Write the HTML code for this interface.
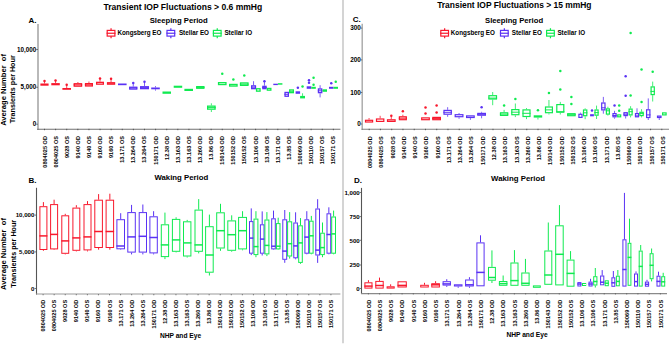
<!DOCTYPE html>
<html><head><meta charset="utf-8"><style>
html,body{margin:0;padding:0;background:#fff;}
svg{display:block;}
text{font-family:"Liberation Sans", sans-serif;}
</style></head><body>
<svg width="669" height="346" viewBox="0 0 669 346">
<rect x="0" y="0" width="669" height="346" fill="#fff"/>
<line x1="343.0" y1="0" x2="343.0" y2="343.2" stroke="#d0d0d0" stroke-width="1.8"/>
<text x="182.90" y="10.00" font-size="8.55" text-anchor="middle" font-weight="bold" fill="#000" >Transient IOP Fluctuations &gt; 0.6 mmHg</text>
<text x="178.70" y="22.90" font-size="7.7" text-anchor="middle" font-weight="bold" fill="#000" >Sleeping Period</text>
<text x="28.50" y="23.10" font-size="8.0" text-anchor="start" font-weight="bold" fill="#000" >A.</text>
<line x1="111.05" y1="28.20" x2="111.05" y2="38.30" stroke="#f8182c" stroke-width="1.2"/>
<rect x="107.20" y="30.40" width="7.70" height="5.70" fill="#fff" stroke="#f8182c" stroke-width="1.2"/>
<line x1="106.60" y1="33.25" x2="115.50" y2="33.25" stroke="#f8182c" stroke-width="1.2"/>
<text x="117.40" y="34.90" font-size="6.3" text-anchor="start" font-weight="bold" fill="#000" >Kongsberg EO</text>
<line x1="170.85" y1="28.20" x2="170.85" y2="38.30" stroke="#5a32f4" stroke-width="1.2"/>
<rect x="167.00" y="30.40" width="7.70" height="5.70" fill="#fff" stroke="#5a32f4" stroke-width="1.2"/>
<line x1="166.40" y1="33.25" x2="175.30" y2="33.25" stroke="#5a32f4" stroke-width="1.2"/>
<text x="178.90" y="34.90" font-size="6.3" text-anchor="start" font-weight="bold" fill="#000" >Stellar EO</text>
<line x1="217.25" y1="28.20" x2="217.25" y2="38.30" stroke="#10ea50" stroke-width="1.2"/>
<rect x="213.40" y="30.40" width="7.70" height="5.70" fill="#fff" stroke="#10ea50" stroke-width="1.2"/>
<line x1="212.80" y1="33.25" x2="221.70" y2="33.25" stroke="#10ea50" stroke-width="1.2"/>
<text x="224.40" y="34.90" font-size="6.3" text-anchor="start" font-weight="bold" fill="#000" >Stellar IO</text>
<text transform="translate(5.90,89.90) rotate(-90)" font-size="7.6" text-anchor="middle" font-weight="bold" fill="#000" >Average Number&#160; of</text>
<text transform="translate(15.00,89.25) rotate(-90)" font-size="7.2" text-anchor="middle" font-weight="bold" fill="#000" >Transients per Hour</text>
<line x1="38.00" y1="24.00" x2="38.00" y2="129.90" stroke="#a8a8a8" stroke-width="1.6"/>
<line x1="37.20" y1="129.30" x2="340.40" y2="129.30" stroke="#707070" stroke-width="1.1"/>
<text x="36.30" y="51.70" font-size="6.3" text-anchor="end" font-weight="bold" fill="#000" >10,000</text>
<line x1="36.20" y1="49.50" x2="38.00" y2="49.50" stroke="#555" stroke-width="0.8"/>
<text x="36.30" y="89.45" font-size="6.3" text-anchor="end" font-weight="bold" fill="#000" >5,000</text>
<line x1="36.20" y1="87.25" x2="38.00" y2="87.25" stroke="#555" stroke-width="0.8"/>
<text x="36.30" y="126.40" font-size="6.3" text-anchor="end" font-weight="bold" fill="#000" >0</text>
<line x1="36.20" y1="124.20" x2="38.00" y2="124.20" stroke="#555" stroke-width="0.8"/>
<line x1="44.50" y1="128.80" x2="44.50" y2="130.20" stroke="#444" stroke-width="0.8"/>
<line x1="55.61" y1="128.80" x2="55.61" y2="130.20" stroke="#444" stroke-width="0.8"/>
<line x1="66.72" y1="128.80" x2="66.72" y2="130.20" stroke="#444" stroke-width="0.8"/>
<line x1="77.83" y1="128.80" x2="77.83" y2="130.20" stroke="#444" stroke-width="0.8"/>
<line x1="88.94" y1="128.80" x2="88.94" y2="130.20" stroke="#444" stroke-width="0.8"/>
<line x1="100.05" y1="128.80" x2="100.05" y2="130.20" stroke="#444" stroke-width="0.8"/>
<line x1="111.16" y1="128.80" x2="111.16" y2="130.20" stroke="#444" stroke-width="0.8"/>
<line x1="122.27" y1="128.80" x2="122.27" y2="130.20" stroke="#444" stroke-width="0.8"/>
<line x1="133.38" y1="128.80" x2="133.38" y2="130.20" stroke="#444" stroke-width="0.8"/>
<line x1="144.49" y1="128.80" x2="144.49" y2="130.20" stroke="#444" stroke-width="0.8"/>
<line x1="155.60" y1="128.80" x2="155.60" y2="130.20" stroke="#444" stroke-width="0.8"/>
<line x1="166.71" y1="128.80" x2="166.71" y2="130.20" stroke="#444" stroke-width="0.8"/>
<line x1="177.82" y1="128.80" x2="177.82" y2="130.20" stroke="#444" stroke-width="0.8"/>
<line x1="188.93" y1="128.80" x2="188.93" y2="130.20" stroke="#444" stroke-width="0.8"/>
<line x1="200.04" y1="128.80" x2="200.04" y2="130.20" stroke="#444" stroke-width="0.8"/>
<line x1="211.15" y1="128.80" x2="211.15" y2="130.20" stroke="#444" stroke-width="0.8"/>
<line x1="222.26" y1="128.80" x2="222.26" y2="130.20" stroke="#444" stroke-width="0.8"/>
<line x1="233.37" y1="128.80" x2="233.37" y2="130.20" stroke="#444" stroke-width="0.8"/>
<line x1="244.48" y1="128.80" x2="244.48" y2="130.20" stroke="#444" stroke-width="0.8"/>
<line x1="255.59" y1="128.80" x2="255.59" y2="130.20" stroke="#444" stroke-width="0.8"/>
<line x1="266.70" y1="128.80" x2="266.70" y2="130.20" stroke="#444" stroke-width="0.8"/>
<line x1="277.81" y1="128.80" x2="277.81" y2="130.20" stroke="#444" stroke-width="0.8"/>
<line x1="288.92" y1="128.80" x2="288.92" y2="130.20" stroke="#444" stroke-width="0.8"/>
<line x1="300.03" y1="128.80" x2="300.03" y2="130.20" stroke="#444" stroke-width="0.8"/>
<line x1="311.14" y1="128.80" x2="311.14" y2="130.20" stroke="#444" stroke-width="0.8"/>
<line x1="322.25" y1="128.80" x2="322.25" y2="130.20" stroke="#444" stroke-width="0.8"/>
<line x1="333.36" y1="128.80" x2="333.36" y2="130.20" stroke="#444" stroke-width="0.8"/>
<text transform="translate(46.50,136.00) rotate(-90)" font-size="5.6" text-anchor="end" font-weight="bold" fill="#000" >0804025 OD</text>
<text transform="translate(57.61,136.00) rotate(-90)" font-size="5.6" text-anchor="end" font-weight="bold" fill="#000" >0804025 OS</text>
<text transform="translate(68.72,136.00) rotate(-90)" font-size="5.6" text-anchor="end" font-weight="bold" fill="#000" >9028 OS</text>
<text transform="translate(79.83,136.00) rotate(-90)" font-size="5.6" text-anchor="end" font-weight="bold" fill="#000" >9140 OD</text>
<text transform="translate(90.94,136.00) rotate(-90)" font-size="5.6" text-anchor="end" font-weight="bold" fill="#000" >9140 OS</text>
<text transform="translate(102.05,136.00) rotate(-90)" font-size="5.6" text-anchor="end" font-weight="bold" fill="#000" >9160 OD</text>
<text transform="translate(113.16,136.00) rotate(-90)" font-size="5.6" text-anchor="end" font-weight="bold" fill="#000" >9160 OS</text>
<text transform="translate(124.27,136.00) rotate(-90)" font-size="5.6" text-anchor="end" font-weight="bold" fill="#000" >13.171 OS</text>
<text transform="translate(135.38,136.00) rotate(-90)" font-size="5.6" text-anchor="end" font-weight="bold" fill="#000" >13.264 OD</text>
<text transform="translate(146.49,136.00) rotate(-90)" font-size="5.6" text-anchor="end" font-weight="bold" fill="#000" >13.264 OS</text>
<text transform="translate(157.60,136.00) rotate(-90)" font-size="5.6" text-anchor="end" font-weight="bold" fill="#000" >150171 OD</text>
<text transform="translate(168.71,136.00) rotate(-90)" font-size="5.6" text-anchor="end" font-weight="bold" fill="#000" >12.38 OD</text>
<text transform="translate(179.82,136.00) rotate(-90)" font-size="5.6" text-anchor="end" font-weight="bold" fill="#000" >13.163 OD</text>
<text transform="translate(190.93,136.00) rotate(-90)" font-size="5.6" text-anchor="end" font-weight="bold" fill="#000" >13.163 OS</text>
<text transform="translate(202.04,136.00) rotate(-90)" font-size="5.6" text-anchor="end" font-weight="bold" fill="#000" >13.260 OD</text>
<text transform="translate(213.15,136.00) rotate(-90)" font-size="5.6" text-anchor="end" font-weight="bold" fill="#000" >13.86 OD</text>
<text transform="translate(224.26,136.00) rotate(-90)" font-size="5.6" text-anchor="end" font-weight="bold" fill="#000" >150143 OD</text>
<text transform="translate(235.37,136.00) rotate(-90)" font-size="5.6" text-anchor="end" font-weight="bold" fill="#000" >150152 OD</text>
<text transform="translate(246.48,136.00) rotate(-90)" font-size="5.6" text-anchor="end" font-weight="bold" fill="#000" >150152 OS</text>
<text transform="translate(257.59,136.00) rotate(-90)" font-size="5.6" text-anchor="end" font-weight="bold" fill="#000" >13.106 OD</text>
<text transform="translate(268.70,136.00) rotate(-90)" font-size="5.6" text-anchor="end" font-weight="bold" fill="#000" >13.106 OS</text>
<text transform="translate(279.81,136.00) rotate(-90)" font-size="5.6" text-anchor="end" font-weight="bold" fill="#000" >13.171 OD</text>
<text transform="translate(290.92,136.00) rotate(-90)" font-size="5.6" text-anchor="end" font-weight="bold" fill="#000" >13.85 OS</text>
<text transform="translate(302.03,136.00) rotate(-90)" font-size="5.6" text-anchor="end" font-weight="bold" fill="#000" >150069 OD</text>
<text transform="translate(313.14,136.00) rotate(-90)" font-size="5.6" text-anchor="end" font-weight="bold" fill="#000" >150110 OD</text>
<text transform="translate(324.25,136.00) rotate(-90)" font-size="5.6" text-anchor="end" font-weight="bold" fill="#000" >150157 OS</text>
<text transform="translate(335.36,136.00) rotate(-90)" font-size="5.6" text-anchor="end" font-weight="bold" fill="#000" >150171 OS</text>
<line x1="44.50" y1="80.90" x2="44.50" y2="83.50" stroke="#f8182c" stroke-width="0.8"/>
<rect x="41.05" y="84.15" width="6.90" height="0.90" fill="none" stroke="#f8182c" stroke-width="1.3"/>
<circle cx="44.50" cy="80.90" r="1.25" fill="#f8182c"/>
<line x1="55.55" y1="80.50" x2="55.55" y2="83.10" stroke="#f8182c" stroke-width="0.8"/>
<rect x="51.95" y="83.75" width="7.20" height="0.90" fill="none" stroke="#f8182c" stroke-width="1.3"/>
<circle cx="55.55" cy="80.50" r="1.25" fill="#f8182c"/>
<line x1="66.70" y1="84.80" x2="66.70" y2="88.00" stroke="#f8182c" stroke-width="0.8"/>
<rect x="63.05" y="88.65" width="7.30" height="0.50" fill="none" stroke="#f8182c" stroke-width="1.3"/>
<circle cx="66.70" cy="84.80" r="1.25" fill="#f8182c"/>
<line x1="77.90" y1="82.00" x2="77.90" y2="83.10" stroke="#f8182c" stroke-width="0.8"/>
<rect x="74.25" y="83.75" width="7.30" height="2.40" fill="none" stroke="#f8182c" stroke-width="1.3"/>
<line x1="73.60" y1="84.90" x2="82.20" y2="84.90" stroke="#f8182c" stroke-width="1.0"/>
<line x1="88.95" y1="81.50" x2="88.95" y2="83.00" stroke="#f8182c" stroke-width="0.8"/>
<rect x="85.55" y="83.65" width="6.80" height="2.30" fill="none" stroke="#f8182c" stroke-width="1.3"/>
<line x1="84.90" y1="84.80" x2="93.00" y2="84.80" stroke="#f8182c" stroke-width="1.0"/>
<line x1="100.00" y1="78.50" x2="100.00" y2="81.70" stroke="#f8182c" stroke-width="0.8"/>
<rect x="96.65" y="82.35" width="6.70" height="1.80" fill="none" stroke="#f8182c" stroke-width="1.3"/>
<circle cx="100.00" cy="78.50" r="1.25" fill="#f8182c"/>
<line x1="111.05" y1="78.80" x2="111.05" y2="82.10" stroke="#f8182c" stroke-width="0.8"/>
<rect x="107.55" y="82.75" width="7.00" height="1.40" fill="none" stroke="#f8182c" stroke-width="1.3"/>
<circle cx="111.05" cy="78.80" r="1.25" fill="#f8182c"/>
<rect x="118.65" y="84.15" width="7.30" height="0.40" fill="none" stroke="#5a32f4" stroke-width="1.3"/>
<line x1="133.25" y1="83.00" x2="133.25" y2="86.60" stroke="#5a32f4" stroke-width="0.8"/>
<rect x="129.75" y="87.25" width="7.00" height="1.80" fill="none" stroke="#5a32f4" stroke-width="1.3"/>
<line x1="129.10" y1="88.00" x2="137.40" y2="88.00" stroke="#5a32f4" stroke-width="1.0"/>
<circle cx="133.25" cy="83.00" r="1.25" fill="#5a32f4"/>
<line x1="144.50" y1="81.70" x2="144.50" y2="86.10" stroke="#5a32f4" stroke-width="0.8"/>
<rect x="140.65" y="86.75" width="7.70" height="1.90" fill="none" stroke="#5a32f4" stroke-width="1.3"/>
<line x1="140.00" y1="87.60" x2="149.00" y2="87.60" stroke="#5a32f4" stroke-width="1.0"/>
<circle cx="144.50" cy="81.70" r="1.25" fill="#5a32f4"/>
<line x1="155.50" y1="86.10" x2="155.50" y2="87.50" stroke="#5a32f4" stroke-width="0.8"/>
<line x1="155.50" y1="89.30" x2="155.50" y2="90.60" stroke="#5a32f4" stroke-width="0.8"/>
<rect x="151.85" y="88.15" width="7.30" height="0.50" fill="none" stroke="#5a32f4" stroke-width="1.3"/>
<rect x="163.15" y="92.15" width="7.20" height="1.00" fill="none" stroke="#10ea50" stroke-width="1.3"/>
<rect x="174.35" y="86.35" width="7.20" height="0.80" fill="none" stroke="#10ea50" stroke-width="1.3"/>
<rect x="185.05" y="89.45" width="7.30" height="0.90" fill="none" stroke="#10ea50" stroke-width="1.3"/>
<rect x="196.75" y="86.65" width="7.10" height="1.60" fill="none" stroke="#10ea50" stroke-width="1.3"/>
<line x1="196.10" y1="87.40" x2="204.50" y2="87.40" stroke="#10ea50" stroke-width="1.0"/>
<line x1="211.35" y1="103.30" x2="211.35" y2="105.50" stroke="#10ea50" stroke-width="0.8"/>
<line x1="211.35" y1="109.80" x2="211.35" y2="112.00" stroke="#10ea50" stroke-width="0.8"/>
<rect x="207.65" y="106.15" width="7.40" height="3.00" fill="none" stroke="#10ea50" stroke-width="1.3"/>
<line x1="207.00" y1="107.60" x2="215.70" y2="107.60" stroke="#10ea50" stroke-width="1.0"/>
<rect x="218.55" y="82.65" width="7.40" height="1.90" fill="none" stroke="#10ea50" stroke-width="1.3"/>
<circle cx="222.25" cy="73.70" r="1.25" fill="#10ea50"/>
<rect x="229.65" y="84.45" width="7.40" height="1.60" fill="none" stroke="#10ea50" stroke-width="1.3"/>
<circle cx="233.35" cy="79.50" r="1.25" fill="#10ea50"/>
<rect x="240.55" y="82.95" width="7.40" height="2.40" fill="none" stroke="#10ea50" stroke-width="1.3"/>
<line x1="239.90" y1="84.20" x2="248.60" y2="84.20" stroke="#10ea50" stroke-width="1.0"/>
<circle cx="244.25" cy="75.40" r="1.25" fill="#10ea50"/>
<line x1="253.55" y1="81.20" x2="253.55" y2="85.20" stroke="#5a32f4" stroke-width="0.8"/>
<rect x="251.65" y="85.85" width="3.80" height="2.80" fill="none" stroke="#5a32f4" stroke-width="1.3"/>
<line x1="251.00" y1="87.20" x2="256.10" y2="87.20" stroke="#5a32f4" stroke-width="1.0"/>
<rect x="256.55" y="88.75" width="3.50" height="2.40" fill="none" stroke="#10ea50" stroke-width="1.3"/>
<line x1="264.45" y1="81.20" x2="264.45" y2="85.70" stroke="#5a32f4" stroke-width="0.8"/>
<rect x="262.85" y="86.35" width="3.20" height="2.30" fill="none" stroke="#5a32f4" stroke-width="1.3"/>
<line x1="262.20" y1="87.50" x2="266.70" y2="87.50" stroke="#5a32f4" stroke-width="1.0"/>
<circle cx="264.45" cy="81.20" r="1.25" fill="#5a32f4"/>
<rect x="267.35" y="88.45" width="3.50" height="1.70" fill="none" stroke="#10ea50" stroke-width="1.3"/>
<rect x="273.95" y="84.35" width="3.30" height="0.10" fill="none" stroke="#5a32f4" stroke-width="1.3"/>
<rect x="278.55" y="83.85" width="3.20" height="0.20" fill="none" stroke="#10ea50" stroke-width="1.3"/>
<rect x="285.05" y="92.45" width="3.30" height="3.80" fill="none" stroke="#5a32f4" stroke-width="1.3"/>
<line x1="284.40" y1="94.30" x2="289.00" y2="94.30" stroke="#5a32f4" stroke-width="1.0"/>
<rect x="289.65" y="89.95" width="3.70" height="2.70" fill="none" stroke="#10ea50" stroke-width="1.3"/>
<line x1="289.00" y1="91.30" x2="294.00" y2="91.30" stroke="#10ea50" stroke-width="1.0"/>
<rect x="296.25" y="91.95" width="3.20" height="1.20" fill="none" stroke="#5a32f4" stroke-width="1.3"/>
<circle cx="297.85" cy="87.80" r="1.25" fill="#5a32f4"/>
<line x1="302.55" y1="93.30" x2="302.55" y2="95.90" stroke="#10ea50" stroke-width="0.8"/>
<rect x="300.75" y="96.55" width="3.60" height="1.20" fill="none" stroke="#10ea50" stroke-width="1.3"/>
<circle cx="302.55" cy="86.50" r="1.25" fill="#10ea50"/>
<rect x="307.35" y="86.95" width="3.30" height="1.20" fill="none" stroke="#5a32f4" stroke-width="1.3"/>
<circle cx="309.00" cy="80.20" r="1.25" fill="#5a32f4"/>
<circle cx="309.00" cy="82.70" r="1.25" fill="#5a32f4"/>
<rect x="311.95" y="87.45" width="3.20" height="0.70" fill="none" stroke="#10ea50" stroke-width="1.3"/>
<circle cx="313.55" cy="77.70" r="1.25" fill="#10ea50"/>
<circle cx="313.55" cy="84.70" r="1.25" fill="#10ea50"/>
<line x1="320.10" y1="85.20" x2="320.10" y2="88.30" stroke="#5a32f4" stroke-width="0.8"/>
<line x1="320.10" y1="93.30" x2="320.10" y2="97.40" stroke="#5a32f4" stroke-width="0.8"/>
<rect x="318.45" y="88.95" width="3.30" height="3.70" fill="none" stroke="#5a32f4" stroke-width="1.3"/>
<line x1="317.80" y1="90.80" x2="322.40" y2="90.80" stroke="#5a32f4" stroke-width="1.0"/>
<rect x="323.25" y="89.95" width="3.10" height="1.20" fill="none" stroke="#10ea50" stroke-width="1.3"/>
<rect x="329.65" y="87.45" width="3.20" height="0.70" fill="none" stroke="#5a32f4" stroke-width="1.3"/>
<circle cx="331.25" cy="83.20" r="1.25" fill="#5a32f4"/>
<rect x="334.15" y="87.45" width="3.20" height="0.70" fill="none" stroke="#10ea50" stroke-width="1.3"/>
<circle cx="335.75" cy="81.70" r="1.25" fill="#10ea50"/>
<text x="181.35" y="180.00" font-size="7.8" text-anchor="middle" font-weight="bold" fill="#000" >Waking Period</text>
<text x="28.50" y="182.60" font-size="8.0" text-anchor="start" font-weight="bold" fill="#000" >B.</text>
<text transform="translate(6.40,254.00) rotate(-90)" font-size="7.6" text-anchor="middle" font-weight="bold" fill="#000" >Average Number&#160; of</text>
<text transform="translate(15.80,253.80) rotate(-90)" font-size="7.2" text-anchor="middle" font-weight="bold" fill="#000" >Transients per Hour</text>
<line x1="36.50" y1="187.80" x2="36.50" y2="294.60" stroke="#555" stroke-width="1.1"/>
<line x1="36.00" y1="294.00" x2="340.40" y2="294.00" stroke="#999" stroke-width="1.2"/>
<text x="34.30" y="217.30" font-size="6.1" text-anchor="end" font-weight="bold" fill="#000" >10,000</text>
<line x1="34.50" y1="215.10" x2="36.50" y2="215.10" stroke="#555" stroke-width="0.8"/>
<text x="34.30" y="254.10" font-size="6.1" text-anchor="end" font-weight="bold" fill="#000" >5,000</text>
<line x1="34.50" y1="251.90" x2="36.50" y2="251.90" stroke="#555" stroke-width="0.8"/>
<text x="34.30" y="290.70" font-size="6.1" text-anchor="end" font-weight="bold" fill="#000" >0</text>
<line x1="34.50" y1="288.50" x2="36.50" y2="288.50" stroke="#555" stroke-width="0.8"/>
<line x1="43.10" y1="294.00" x2="43.10" y2="295.30" stroke="#555" stroke-width="0.7"/>
<line x1="54.17" y1="294.00" x2="54.17" y2="295.30" stroke="#555" stroke-width="0.7"/>
<line x1="65.24" y1="294.00" x2="65.24" y2="295.30" stroke="#555" stroke-width="0.7"/>
<line x1="76.31" y1="294.00" x2="76.31" y2="295.30" stroke="#555" stroke-width="0.7"/>
<line x1="87.38" y1="294.00" x2="87.38" y2="295.30" stroke="#555" stroke-width="0.7"/>
<line x1="98.45" y1="294.00" x2="98.45" y2="295.30" stroke="#555" stroke-width="0.7"/>
<line x1="109.52" y1="294.00" x2="109.52" y2="295.30" stroke="#555" stroke-width="0.7"/>
<line x1="120.59" y1="294.00" x2="120.59" y2="295.30" stroke="#555" stroke-width="0.7"/>
<line x1="131.66" y1="294.00" x2="131.66" y2="295.30" stroke="#555" stroke-width="0.7"/>
<line x1="142.73" y1="294.00" x2="142.73" y2="295.30" stroke="#555" stroke-width="0.7"/>
<line x1="153.80" y1="294.00" x2="153.80" y2="295.30" stroke="#555" stroke-width="0.7"/>
<line x1="164.87" y1="294.00" x2="164.87" y2="295.30" stroke="#555" stroke-width="0.7"/>
<line x1="175.94" y1="294.00" x2="175.94" y2="295.30" stroke="#555" stroke-width="0.7"/>
<line x1="187.01" y1="294.00" x2="187.01" y2="295.30" stroke="#555" stroke-width="0.7"/>
<line x1="198.08" y1="294.00" x2="198.08" y2="295.30" stroke="#555" stroke-width="0.7"/>
<line x1="209.15" y1="294.00" x2="209.15" y2="295.30" stroke="#555" stroke-width="0.7"/>
<line x1="220.22" y1="294.00" x2="220.22" y2="295.30" stroke="#555" stroke-width="0.7"/>
<line x1="231.29" y1="294.00" x2="231.29" y2="295.30" stroke="#555" stroke-width="0.7"/>
<line x1="242.36" y1="294.00" x2="242.36" y2="295.30" stroke="#555" stroke-width="0.7"/>
<line x1="253.43" y1="294.00" x2="253.43" y2="295.30" stroke="#555" stroke-width="0.7"/>
<line x1="264.50" y1="294.00" x2="264.50" y2="295.30" stroke="#555" stroke-width="0.7"/>
<line x1="275.57" y1="294.00" x2="275.57" y2="295.30" stroke="#555" stroke-width="0.7"/>
<line x1="286.64" y1="294.00" x2="286.64" y2="295.30" stroke="#555" stroke-width="0.7"/>
<line x1="297.71" y1="294.00" x2="297.71" y2="295.30" stroke="#555" stroke-width="0.7"/>
<line x1="308.78" y1="294.00" x2="308.78" y2="295.30" stroke="#555" stroke-width="0.7"/>
<line x1="319.85" y1="294.00" x2="319.85" y2="295.30" stroke="#555" stroke-width="0.7"/>
<line x1="330.92" y1="294.00" x2="330.92" y2="295.30" stroke="#555" stroke-width="0.7"/>
<text transform="translate(45.10,299.80) rotate(-90)" font-size="5.6" text-anchor="end" font-weight="bold" fill="#000" >0804025 OD</text>
<text transform="translate(56.17,299.80) rotate(-90)" font-size="5.6" text-anchor="end" font-weight="bold" fill="#000" >0804025 OS</text>
<text transform="translate(67.24,299.80) rotate(-90)" font-size="5.6" text-anchor="end" font-weight="bold" fill="#000" >9028 OS</text>
<text transform="translate(78.31,299.80) rotate(-90)" font-size="5.6" text-anchor="end" font-weight="bold" fill="#000" >9140 OD</text>
<text transform="translate(89.38,299.80) rotate(-90)" font-size="5.6" text-anchor="end" font-weight="bold" fill="#000" >9140 OS</text>
<text transform="translate(100.45,299.80) rotate(-90)" font-size="5.6" text-anchor="end" font-weight="bold" fill="#000" >9160 OD</text>
<text transform="translate(111.52,299.80) rotate(-90)" font-size="5.6" text-anchor="end" font-weight="bold" fill="#000" >9160 OS</text>
<text transform="translate(122.59,299.80) rotate(-90)" font-size="5.6" text-anchor="end" font-weight="bold" fill="#000" >13.171 OS</text>
<text transform="translate(133.66,299.80) rotate(-90)" font-size="5.6" text-anchor="end" font-weight="bold" fill="#000" >13.264 OD</text>
<text transform="translate(144.73,299.80) rotate(-90)" font-size="5.6" text-anchor="end" font-weight="bold" fill="#000" >13.264 OS</text>
<text transform="translate(155.80,299.80) rotate(-90)" font-size="5.6" text-anchor="end" font-weight="bold" fill="#000" >150171 OD</text>
<text transform="translate(166.87,299.80) rotate(-90)" font-size="5.6" text-anchor="end" font-weight="bold" fill="#000" >12.38 OD</text>
<text transform="translate(177.94,299.80) rotate(-90)" font-size="5.6" text-anchor="end" font-weight="bold" fill="#000" >13.163 OD</text>
<text transform="translate(189.01,299.80) rotate(-90)" font-size="5.6" text-anchor="end" font-weight="bold" fill="#000" >13.163 OS</text>
<text transform="translate(200.08,299.80) rotate(-90)" font-size="5.6" text-anchor="end" font-weight="bold" fill="#000" >13.260 OD</text>
<text transform="translate(211.15,299.80) rotate(-90)" font-size="5.6" text-anchor="end" font-weight="bold" fill="#000" >13.86 OD</text>
<text transform="translate(222.22,299.80) rotate(-90)" font-size="5.6" text-anchor="end" font-weight="bold" fill="#000" >150143 OD</text>
<text transform="translate(233.29,299.80) rotate(-90)" font-size="5.6" text-anchor="end" font-weight="bold" fill="#000" >150152 OD</text>
<text transform="translate(244.36,299.80) rotate(-90)" font-size="5.6" text-anchor="end" font-weight="bold" fill="#000" >150152 OS</text>
<text transform="translate(255.43,299.80) rotate(-90)" font-size="5.6" text-anchor="end" font-weight="bold" fill="#000" >13.106 OD</text>
<text transform="translate(266.50,299.80) rotate(-90)" font-size="5.6" text-anchor="end" font-weight="bold" fill="#000" >13.106 OS</text>
<text transform="translate(277.57,299.80) rotate(-90)" font-size="5.6" text-anchor="end" font-weight="bold" fill="#000" >13.171 OD</text>
<text transform="translate(288.64,299.80) rotate(-90)" font-size="5.6" text-anchor="end" font-weight="bold" fill="#000" >13.85 OS</text>
<text transform="translate(299.71,299.80) rotate(-90)" font-size="5.6" text-anchor="end" font-weight="bold" fill="#000" >150069 OD</text>
<text transform="translate(310.78,299.80) rotate(-90)" font-size="5.6" text-anchor="end" font-weight="bold" fill="#000" >150110 OD</text>
<text transform="translate(321.85,299.80) rotate(-90)" font-size="5.6" text-anchor="end" font-weight="bold" fill="#000" >150157 OS</text>
<text transform="translate(332.92,299.80) rotate(-90)" font-size="5.6" text-anchor="end" font-weight="bold" fill="#000" >150171 OS</text>
<text x="180.50" y="337.60" font-size="6.65" text-anchor="middle" font-weight="bold" fill="#000" >NHP and Eye</text>
<line x1="43.40" y1="202.10" x2="43.40" y2="206.20" stroke="#f8182c" stroke-width="1.0"/>
<line x1="43.40" y1="250.00" x2="43.40" y2="250.80" stroke="#f8182c" stroke-width="1.0"/>
<rect x="39.90" y="206.70" width="7.00" height="42.80" fill="none" stroke="#f8182c" stroke-width="1.0"/>
<line x1="39.40" y1="235.90" x2="47.40" y2="235.90" stroke="#f8182c" stroke-width="1.5"/>
<line x1="54.10" y1="199.70" x2="54.10" y2="204.10" stroke="#f8182c" stroke-width="1.0"/>
<line x1="54.10" y1="249.40" x2="54.10" y2="250.00" stroke="#f8182c" stroke-width="1.0"/>
<rect x="50.60" y="204.60" width="7.00" height="44.30" fill="none" stroke="#f8182c" stroke-width="1.0"/>
<line x1="50.10" y1="234.40" x2="58.10" y2="234.40" stroke="#f8182c" stroke-width="1.5"/>
<line x1="65.25" y1="213.80" x2="65.25" y2="215.30" stroke="#f8182c" stroke-width="1.0"/>
<line x1="65.25" y1="253.80" x2="65.25" y2="254.40" stroke="#f8182c" stroke-width="1.0"/>
<rect x="61.80" y="215.80" width="6.90" height="37.50" fill="none" stroke="#f8182c" stroke-width="1.0"/>
<line x1="61.30" y1="240.90" x2="69.20" y2="240.90" stroke="#f8182c" stroke-width="1.5"/>
<line x1="76.35" y1="205.20" x2="76.35" y2="207.60" stroke="#f8182c" stroke-width="1.0"/>
<line x1="76.35" y1="250.80" x2="76.35" y2="251.40" stroke="#f8182c" stroke-width="1.0"/>
<rect x="72.90" y="208.10" width="6.90" height="42.20" fill="none" stroke="#f8182c" stroke-width="1.0"/>
<line x1="72.40" y1="237.90" x2="80.30" y2="237.90" stroke="#f8182c" stroke-width="1.5"/>
<line x1="87.50" y1="201.10" x2="87.50" y2="204.10" stroke="#f8182c" stroke-width="1.0"/>
<line x1="87.50" y1="250.40" x2="87.50" y2="251.40" stroke="#f8182c" stroke-width="1.0"/>
<rect x="84.00" y="204.60" width="7.00" height="45.30" fill="none" stroke="#f8182c" stroke-width="1.0"/>
<line x1="83.50" y1="236.90" x2="91.50" y2="236.90" stroke="#f8182c" stroke-width="1.5"/>
<line x1="98.60" y1="194.10" x2="98.60" y2="199.70" stroke="#f8182c" stroke-width="1.0"/>
<line x1="98.60" y1="248.00" x2="98.60" y2="249.70" stroke="#f8182c" stroke-width="1.0"/>
<rect x="94.80" y="200.20" width="7.60" height="47.30" fill="none" stroke="#f8182c" stroke-width="1.0"/>
<line x1="94.30" y1="231.50" x2="102.90" y2="231.50" stroke="#f8182c" stroke-width="1.5"/>
<line x1="109.85" y1="193.70" x2="109.85" y2="199.70" stroke="#f8182c" stroke-width="1.0"/>
<line x1="109.85" y1="248.00" x2="109.85" y2="249.70" stroke="#f8182c" stroke-width="1.0"/>
<rect x="106.10" y="200.20" width="7.50" height="47.30" fill="none" stroke="#f8182c" stroke-width="1.0"/>
<line x1="105.60" y1="231.50" x2="114.10" y2="231.50" stroke="#f8182c" stroke-width="1.5"/>
<line x1="120.70" y1="213.20" x2="120.70" y2="219.20" stroke="#5a32f4" stroke-width="1.0"/>
<line x1="120.70" y1="249.30" x2="120.70" y2="249.80" stroke="#5a32f4" stroke-width="1.0"/>
<rect x="116.90" y="219.70" width="7.60" height="29.10" fill="none" stroke="#5a32f4" stroke-width="1.0"/>
<line x1="116.40" y1="246.00" x2="125.00" y2="246.00" stroke="#5a32f4" stroke-width="1.5"/>
<line x1="131.55" y1="204.90" x2="131.55" y2="212.10" stroke="#5a32f4" stroke-width="1.0"/>
<line x1="131.55" y1="252.60" x2="131.55" y2="254.40" stroke="#5a32f4" stroke-width="1.0"/>
<rect x="127.80" y="212.60" width="7.50" height="39.50" fill="none" stroke="#5a32f4" stroke-width="1.0"/>
<line x1="127.30" y1="236.90" x2="135.80" y2="236.90" stroke="#5a32f4" stroke-width="1.5"/>
<line x1="142.85" y1="204.50" x2="142.85" y2="212.10" stroke="#5a32f4" stroke-width="1.0"/>
<line x1="142.85" y1="252.60" x2="142.85" y2="254.40" stroke="#5a32f4" stroke-width="1.0"/>
<rect x="139.20" y="212.60" width="7.30" height="39.50" fill="none" stroke="#5a32f4" stroke-width="1.0"/>
<line x1="138.70" y1="236.30" x2="147.00" y2="236.30" stroke="#5a32f4" stroke-width="1.5"/>
<line x1="153.60" y1="211.20" x2="153.60" y2="216.30" stroke="#5a32f4" stroke-width="1.0"/>
<line x1="153.60" y1="253.40" x2="153.60" y2="254.40" stroke="#5a32f4" stroke-width="1.0"/>
<rect x="149.90" y="216.80" width="7.40" height="36.10" fill="none" stroke="#5a32f4" stroke-width="1.0"/>
<line x1="149.40" y1="237.50" x2="157.80" y2="237.50" stroke="#5a32f4" stroke-width="1.5"/>
<line x1="164.95" y1="212.60" x2="164.95" y2="224.30" stroke="#10ea50" stroke-width="1.0"/>
<line x1="164.95" y1="257.10" x2="164.95" y2="259.10" stroke="#10ea50" stroke-width="1.0"/>
<rect x="161.30" y="224.80" width="7.30" height="31.80" fill="none" stroke="#10ea50" stroke-width="1.0"/>
<line x1="160.80" y1="244.90" x2="169.10" y2="244.90" stroke="#10ea50" stroke-width="1.5"/>
<line x1="176.10" y1="217.30" x2="176.10" y2="218.90" stroke="#10ea50" stroke-width="1.0"/>
<line x1="176.10" y1="251.80" x2="176.10" y2="252.40" stroke="#10ea50" stroke-width="1.0"/>
<rect x="172.40" y="219.40" width="7.40" height="31.90" fill="none" stroke="#10ea50" stroke-width="1.0"/>
<line x1="171.90" y1="239.90" x2="180.30" y2="239.90" stroke="#10ea50" stroke-width="1.5"/>
<line x1="187.20" y1="219.90" x2="187.20" y2="221.30" stroke="#10ea50" stroke-width="1.0"/>
<line x1="187.20" y1="256.50" x2="187.20" y2="257.50" stroke="#10ea50" stroke-width="1.0"/>
<rect x="183.50" y="221.80" width="7.40" height="34.20" fill="none" stroke="#10ea50" stroke-width="1.0"/>
<line x1="183.00" y1="242.90" x2="191.40" y2="242.90" stroke="#10ea50" stroke-width="1.5"/>
<line x1="198.70" y1="199.10" x2="198.70" y2="209.60" stroke="#10ea50" stroke-width="1.0"/>
<line x1="198.70" y1="251.80" x2="198.70" y2="253.40" stroke="#10ea50" stroke-width="1.0"/>
<rect x="195.00" y="210.10" width="7.40" height="41.20" fill="none" stroke="#10ea50" stroke-width="1.0"/>
<line x1="194.50" y1="244.90" x2="202.90" y2="244.90" stroke="#10ea50" stroke-width="1.5"/>
<line x1="209.40" y1="214.60" x2="209.40" y2="226.20" stroke="#10ea50" stroke-width="1.0"/>
<line x1="209.40" y1="272.70" x2="209.40" y2="275.50" stroke="#10ea50" stroke-width="1.0"/>
<rect x="205.60" y="226.70" width="7.60" height="45.50" fill="none" stroke="#10ea50" stroke-width="1.0"/>
<line x1="205.10" y1="255.00" x2="213.70" y2="255.00" stroke="#10ea50" stroke-width="1.5"/>
<line x1="220.50" y1="203.80" x2="220.50" y2="212.30" stroke="#10ea50" stroke-width="1.0"/>
<line x1="220.50" y1="248.50" x2="220.50" y2="250.80" stroke="#10ea50" stroke-width="1.0"/>
<rect x="216.70" y="212.80" width="7.60" height="35.20" fill="none" stroke="#10ea50" stroke-width="1.0"/>
<line x1="216.20" y1="230.70" x2="224.80" y2="230.70" stroke="#10ea50" stroke-width="1.5"/>
<line x1="231.70" y1="215.30" x2="231.70" y2="220.40" stroke="#10ea50" stroke-width="1.0"/>
<line x1="231.70" y1="250.80" x2="231.70" y2="251.70" stroke="#10ea50" stroke-width="1.0"/>
<rect x="227.80" y="220.90" width="7.80" height="29.40" fill="none" stroke="#10ea50" stroke-width="1.0"/>
<line x1="227.30" y1="234.70" x2="236.10" y2="234.70" stroke="#10ea50" stroke-width="1.5"/>
<line x1="242.55" y1="211.20" x2="242.55" y2="216.90" stroke="#10ea50" stroke-width="1.0"/>
<line x1="242.55" y1="249.40" x2="242.55" y2="250.30" stroke="#10ea50" stroke-width="1.0"/>
<rect x="238.60" y="217.40" width="7.90" height="31.50" fill="none" stroke="#10ea50" stroke-width="1.0"/>
<line x1="238.10" y1="230.70" x2="247.00" y2="230.70" stroke="#10ea50" stroke-width="1.5"/>
<line x1="251.25" y1="208.40" x2="251.25" y2="221.10" stroke="#5a32f4" stroke-width="1.0"/>
<line x1="251.25" y1="253.70" x2="251.25" y2="255.10" stroke="#5a32f4" stroke-width="1.0"/>
<rect x="249.50" y="221.60" width="3.50" height="31.60" fill="none" stroke="#5a32f4" stroke-width="1.0"/>
<line x1="249.00" y1="238.10" x2="253.50" y2="238.10" stroke="#5a32f4" stroke-width="1.5"/>
<line x1="255.95" y1="211.20" x2="255.95" y2="218.60" stroke="#10ea50" stroke-width="1.0"/>
<line x1="255.95" y1="255.10" x2="255.95" y2="257.20" stroke="#10ea50" stroke-width="1.0"/>
<rect x="254.00" y="219.10" width="3.90" height="35.50" fill="none" stroke="#10ea50" stroke-width="1.0"/>
<line x1="253.50" y1="246.60" x2="258.40" y2="246.60" stroke="#10ea50" stroke-width="1.5"/>
<line x1="262.20" y1="211.40" x2="262.20" y2="224.30" stroke="#5a32f4" stroke-width="1.0"/>
<line x1="262.20" y1="253.70" x2="262.20" y2="255.50" stroke="#5a32f4" stroke-width="1.0"/>
<rect x="260.40" y="224.80" width="3.60" height="28.40" fill="none" stroke="#5a32f4" stroke-width="1.0"/>
<line x1="259.90" y1="239.10" x2="264.50" y2="239.10" stroke="#5a32f4" stroke-width="1.5"/>
<line x1="266.90" y1="212.10" x2="266.90" y2="219.50" stroke="#10ea50" stroke-width="1.0"/>
<line x1="266.90" y1="254.40" x2="266.90" y2="256.10" stroke="#10ea50" stroke-width="1.0"/>
<rect x="264.90" y="220.00" width="4.00" height="33.90" fill="none" stroke="#10ea50" stroke-width="1.0"/>
<line x1="264.40" y1="245.40" x2="269.40" y2="245.40" stroke="#10ea50" stroke-width="1.5"/>
<line x1="273.50" y1="210.60" x2="273.50" y2="218.30" stroke="#5a32f4" stroke-width="1.0"/>
<line x1="273.50" y1="249.40" x2="273.50" y2="249.80" stroke="#5a32f4" stroke-width="1.0"/>
<rect x="271.70" y="218.80" width="3.60" height="30.10" fill="none" stroke="#5a32f4" stroke-width="1.0"/>
<line x1="271.20" y1="246.20" x2="275.80" y2="246.20" stroke="#5a32f4" stroke-width="1.5"/>
<line x1="278.20" y1="217.70" x2="278.20" y2="223.10" stroke="#10ea50" stroke-width="1.0"/>
<line x1="278.20" y1="249.40" x2="278.20" y2="249.80" stroke="#10ea50" stroke-width="1.0"/>
<rect x="276.40" y="223.60" width="3.60" height="25.30" fill="none" stroke="#10ea50" stroke-width="1.0"/>
<line x1="275.90" y1="246.20" x2="280.50" y2="246.20" stroke="#10ea50" stroke-width="1.5"/>
<line x1="284.75" y1="210.00" x2="284.75" y2="219.30" stroke="#5a32f4" stroke-width="1.0"/>
<line x1="284.75" y1="259.80" x2="284.75" y2="262.80" stroke="#5a32f4" stroke-width="1.0"/>
<rect x="282.80" y="219.80" width="3.90" height="39.50" fill="none" stroke="#5a32f4" stroke-width="1.0"/>
<line x1="282.30" y1="251.10" x2="287.20" y2="251.10" stroke="#5a32f4" stroke-width="1.5"/>
<line x1="289.65" y1="212.10" x2="289.65" y2="221.30" stroke="#10ea50" stroke-width="1.0"/>
<line x1="289.65" y1="256.50" x2="289.65" y2="258.60" stroke="#10ea50" stroke-width="1.0"/>
<rect x="287.60" y="221.80" width="4.10" height="34.20" fill="none" stroke="#10ea50" stroke-width="1.0"/>
<line x1="287.10" y1="243.70" x2="292.20" y2="243.70" stroke="#10ea50" stroke-width="1.5"/>
<line x1="295.60" y1="212.30" x2="295.60" y2="222.50" stroke="#5a32f4" stroke-width="1.0"/>
<line x1="295.60" y1="258.30" x2="295.60" y2="259.30" stroke="#5a32f4" stroke-width="1.0"/>
<rect x="293.80" y="223.00" width="3.60" height="34.80" fill="none" stroke="#5a32f4" stroke-width="1.0"/>
<line x1="293.30" y1="245.90" x2="297.90" y2="245.90" stroke="#5a32f4" stroke-width="1.5"/>
<line x1="300.50" y1="218.10" x2="300.50" y2="225.30" stroke="#10ea50" stroke-width="1.0"/>
<line x1="300.50" y1="262.90" x2="300.50" y2="263.80" stroke="#10ea50" stroke-width="1.0"/>
<rect x="298.70" y="225.80" width="3.60" height="36.60" fill="none" stroke="#10ea50" stroke-width="1.0"/>
<line x1="298.20" y1="242.90" x2="302.80" y2="242.90" stroke="#10ea50" stroke-width="1.5"/>
<line x1="306.80" y1="211.20" x2="306.80" y2="219.30" stroke="#5a32f4" stroke-width="1.0"/>
<line x1="306.80" y1="253.70" x2="306.80" y2="254.30" stroke="#5a32f4" stroke-width="1.0"/>
<rect x="304.90" y="219.80" width="3.80" height="33.40" fill="none" stroke="#5a32f4" stroke-width="1.0"/>
<line x1="304.40" y1="237.10" x2="309.20" y2="237.10" stroke="#5a32f4" stroke-width="1.5"/>
<line x1="311.35" y1="215.90" x2="311.35" y2="220.70" stroke="#10ea50" stroke-width="1.0"/>
<line x1="311.35" y1="253.70" x2="311.35" y2="254.30" stroke="#10ea50" stroke-width="1.0"/>
<rect x="309.60" y="221.20" width="3.50" height="32.00" fill="none" stroke="#10ea50" stroke-width="1.0"/>
<line x1="309.10" y1="235.80" x2="313.60" y2="235.80" stroke="#10ea50" stroke-width="1.5"/>
<line x1="317.65" y1="199.20" x2="317.65" y2="208.50" stroke="#5a32f4" stroke-width="1.0"/>
<line x1="317.65" y1="255.50" x2="317.65" y2="262.90" stroke="#5a32f4" stroke-width="1.0"/>
<rect x="315.80" y="209.00" width="3.70" height="46.00" fill="none" stroke="#5a32f4" stroke-width="1.0"/>
<line x1="315.30" y1="250.10" x2="320.00" y2="250.10" stroke="#5a32f4" stroke-width="1.5"/>
<line x1="322.50" y1="222.50" x2="322.50" y2="232.70" stroke="#10ea50" stroke-width="1.0"/>
<line x1="322.50" y1="255.10" x2="322.50" y2="257.20" stroke="#10ea50" stroke-width="1.0"/>
<rect x="320.70" y="233.20" width="3.60" height="21.40" fill="none" stroke="#10ea50" stroke-width="1.0"/>
<line x1="320.20" y1="247.60" x2="324.80" y2="247.60" stroke="#10ea50" stroke-width="1.5"/>
<line x1="328.85" y1="207.30" x2="328.85" y2="213.30" stroke="#5a32f4" stroke-width="1.0"/>
<line x1="328.85" y1="253.70" x2="328.85" y2="254.30" stroke="#5a32f4" stroke-width="1.0"/>
<rect x="327.00" y="213.80" width="3.70" height="39.40" fill="none" stroke="#5a32f4" stroke-width="1.0"/>
<line x1="326.50" y1="234.50" x2="331.20" y2="234.50" stroke="#5a32f4" stroke-width="1.5"/>
<line x1="333.60" y1="210.60" x2="333.60" y2="216.50" stroke="#10ea50" stroke-width="1.0"/>
<line x1="333.60" y1="253.70" x2="333.60" y2="254.30" stroke="#10ea50" stroke-width="1.0"/>
<rect x="331.70" y="217.00" width="3.80" height="36.20" fill="none" stroke="#10ea50" stroke-width="1.0"/>
<line x1="331.20" y1="233.90" x2="336.00" y2="233.90" stroke="#10ea50" stroke-width="1.5"/>
<text x="514.30" y="7.80" font-size="8.45" text-anchor="middle" font-weight="bold" fill="#000" >Transient IOP Fluctuations &gt; 15 mmHg</text>
<text x="514.10" y="23.00" font-size="7.7" text-anchor="middle" font-weight="bold" fill="#000" >Sleeping Period</text>
<text x="352.70" y="22.40" font-size="8.0" text-anchor="start" font-weight="bold" fill="#000" >C.</text>
<line x1="444.65" y1="28.20" x2="444.65" y2="38.30" stroke="#f8182c" stroke-width="1.2"/>
<rect x="440.80" y="30.40" width="7.70" height="5.70" fill="#fff" stroke="#f8182c" stroke-width="1.2"/>
<line x1="440.20" y1="33.25" x2="449.10" y2="33.25" stroke="#f8182c" stroke-width="1.2"/>
<text x="450.80" y="34.90" font-size="6.3" text-anchor="start" font-weight="bold" fill="#000" >Kongsberg EO</text>
<line x1="504.35" y1="28.20" x2="504.35" y2="38.30" stroke="#5a32f4" stroke-width="1.2"/>
<rect x="500.50" y="30.40" width="7.70" height="5.70" fill="#fff" stroke="#5a32f4" stroke-width="1.2"/>
<line x1="499.90" y1="33.25" x2="508.80" y2="33.25" stroke="#5a32f4" stroke-width="1.2"/>
<text x="511.70" y="34.90" font-size="6.3" text-anchor="start" font-weight="bold" fill="#000" >Stellar EO</text>
<line x1="550.45" y1="28.20" x2="550.45" y2="38.30" stroke="#10ea50" stroke-width="1.2"/>
<rect x="546.60" y="30.40" width="7.70" height="5.70" fill="#fff" stroke="#10ea50" stroke-width="1.2"/>
<line x1="546.00" y1="33.25" x2="554.90" y2="33.25" stroke="#10ea50" stroke-width="1.2"/>
<text x="557.40" y="34.90" font-size="6.3" text-anchor="start" font-weight="bold" fill="#000" >Stellar IO</text>
<line x1="362.20" y1="23.70" x2="362.20" y2="129.90" stroke="#a8a8a8" stroke-width="1.4"/>
<line x1="361.60" y1="129.30" x2="669.00" y2="129.30" stroke="#808080" stroke-width="1.1"/>
<text x="360.80" y="30.40" font-size="6.4" text-anchor="end" font-weight="bold" fill="#000" >300</text>
<line x1="360.80" y1="28.10" x2="362.20" y2="28.10" stroke="#555" stroke-width="0.8"/>
<text x="360.80" y="62.20" font-size="6.4" text-anchor="end" font-weight="bold" fill="#000" >200</text>
<line x1="360.80" y1="59.90" x2="362.20" y2="59.90" stroke="#555" stroke-width="0.8"/>
<text x="360.80" y="94.80" font-size="6.4" text-anchor="end" font-weight="bold" fill="#000" >100</text>
<line x1="360.80" y1="92.50" x2="362.20" y2="92.50" stroke="#555" stroke-width="0.8"/>
<text x="360.80" y="126.30" font-size="6.4" text-anchor="end" font-weight="bold" fill="#000" >0</text>
<line x1="360.80" y1="124.00" x2="362.20" y2="124.00" stroke="#555" stroke-width="0.8"/>
<line x1="369.20" y1="128.80" x2="369.20" y2="130.20" stroke="#444" stroke-width="0.8"/>
<line x1="380.45" y1="128.80" x2="380.45" y2="130.20" stroke="#444" stroke-width="0.8"/>
<line x1="391.71" y1="128.80" x2="391.71" y2="130.20" stroke="#444" stroke-width="0.8"/>
<line x1="402.96" y1="128.80" x2="402.96" y2="130.20" stroke="#444" stroke-width="0.8"/>
<line x1="414.22" y1="128.80" x2="414.22" y2="130.20" stroke="#444" stroke-width="0.8"/>
<line x1="425.47" y1="128.80" x2="425.47" y2="130.20" stroke="#444" stroke-width="0.8"/>
<line x1="436.72" y1="128.80" x2="436.72" y2="130.20" stroke="#444" stroke-width="0.8"/>
<line x1="447.98" y1="128.80" x2="447.98" y2="130.20" stroke="#444" stroke-width="0.8"/>
<line x1="459.23" y1="128.80" x2="459.23" y2="130.20" stroke="#444" stroke-width="0.8"/>
<line x1="470.49" y1="128.80" x2="470.49" y2="130.20" stroke="#444" stroke-width="0.8"/>
<line x1="481.74" y1="128.80" x2="481.74" y2="130.20" stroke="#444" stroke-width="0.8"/>
<line x1="492.99" y1="128.80" x2="492.99" y2="130.20" stroke="#444" stroke-width="0.8"/>
<line x1="504.25" y1="128.80" x2="504.25" y2="130.20" stroke="#444" stroke-width="0.8"/>
<line x1="515.50" y1="128.80" x2="515.50" y2="130.20" stroke="#444" stroke-width="0.8"/>
<line x1="526.76" y1="128.80" x2="526.76" y2="130.20" stroke="#444" stroke-width="0.8"/>
<line x1="538.01" y1="128.80" x2="538.01" y2="130.20" stroke="#444" stroke-width="0.8"/>
<line x1="549.26" y1="128.80" x2="549.26" y2="130.20" stroke="#444" stroke-width="0.8"/>
<line x1="560.52" y1="128.80" x2="560.52" y2="130.20" stroke="#444" stroke-width="0.8"/>
<line x1="571.77" y1="128.80" x2="571.77" y2="130.20" stroke="#444" stroke-width="0.8"/>
<line x1="583.03" y1="128.80" x2="583.03" y2="130.20" stroke="#444" stroke-width="0.8"/>
<line x1="594.28" y1="128.80" x2="594.28" y2="130.20" stroke="#444" stroke-width="0.8"/>
<line x1="605.53" y1="128.80" x2="605.53" y2="130.20" stroke="#444" stroke-width="0.8"/>
<line x1="616.79" y1="128.80" x2="616.79" y2="130.20" stroke="#444" stroke-width="0.8"/>
<line x1="628.04" y1="128.80" x2="628.04" y2="130.20" stroke="#444" stroke-width="0.8"/>
<line x1="639.30" y1="128.80" x2="639.30" y2="130.20" stroke="#444" stroke-width="0.8"/>
<line x1="650.55" y1="128.80" x2="650.55" y2="130.20" stroke="#444" stroke-width="0.8"/>
<line x1="661.80" y1="128.80" x2="661.80" y2="130.20" stroke="#444" stroke-width="0.8"/>
<text transform="translate(372.20,136.30) rotate(-90)" font-size="5.6" text-anchor="end" font-weight="bold" fill="#000" >0804025 OD</text>
<text transform="translate(383.45,136.30) rotate(-90)" font-size="5.6" text-anchor="end" font-weight="bold" fill="#000" >0804025 OS</text>
<text transform="translate(394.71,136.30) rotate(-90)" font-size="5.6" text-anchor="end" font-weight="bold" fill="#000" >9028 OS</text>
<text transform="translate(405.96,136.30) rotate(-90)" font-size="5.6" text-anchor="end" font-weight="bold" fill="#000" >9140 OD</text>
<text transform="translate(417.22,136.30) rotate(-90)" font-size="5.6" text-anchor="end" font-weight="bold" fill="#000" >9140 OS</text>
<text transform="translate(428.47,136.30) rotate(-90)" font-size="5.6" text-anchor="end" font-weight="bold" fill="#000" >9160 OD</text>
<text transform="translate(439.72,136.30) rotate(-90)" font-size="5.6" text-anchor="end" font-weight="bold" fill="#000" >9160 OS</text>
<text transform="translate(450.98,136.30) rotate(-90)" font-size="5.6" text-anchor="end" font-weight="bold" fill="#000" >13.171 OS</text>
<text transform="translate(462.23,136.30) rotate(-90)" font-size="5.6" text-anchor="end" font-weight="bold" fill="#000" >13.264 OD</text>
<text transform="translate(473.49,136.30) rotate(-90)" font-size="5.6" text-anchor="end" font-weight="bold" fill="#000" >13.264 OS</text>
<text transform="translate(484.74,136.30) rotate(-90)" font-size="5.6" text-anchor="end" font-weight="bold" fill="#000" >150171 OD</text>
<text transform="translate(495.99,136.30) rotate(-90)" font-size="5.6" text-anchor="end" font-weight="bold" fill="#000" >12.38 OD</text>
<text transform="translate(507.25,136.30) rotate(-90)" font-size="5.6" text-anchor="end" font-weight="bold" fill="#000" >13.163 OD</text>
<text transform="translate(518.50,136.30) rotate(-90)" font-size="5.6" text-anchor="end" font-weight="bold" fill="#000" >13.163 OS</text>
<text transform="translate(529.76,136.30) rotate(-90)" font-size="5.6" text-anchor="end" font-weight="bold" fill="#000" >13.260 OD</text>
<text transform="translate(541.01,136.30) rotate(-90)" font-size="5.6" text-anchor="end" font-weight="bold" fill="#000" >13.86 OD</text>
<text transform="translate(552.26,136.30) rotate(-90)" font-size="5.6" text-anchor="end" font-weight="bold" fill="#000" >150143 OD</text>
<text transform="translate(563.52,136.30) rotate(-90)" font-size="5.6" text-anchor="end" font-weight="bold" fill="#000" >150152 OD</text>
<text transform="translate(574.77,136.30) rotate(-90)" font-size="5.6" text-anchor="end" font-weight="bold" fill="#000" >150152 OS</text>
<text transform="translate(586.03,136.30) rotate(-90)" font-size="5.6" text-anchor="end" font-weight="bold" fill="#000" >13.106 OD</text>
<text transform="translate(597.28,136.30) rotate(-90)" font-size="5.6" text-anchor="end" font-weight="bold" fill="#000" >13.106 OS</text>
<text transform="translate(608.53,136.30) rotate(-90)" font-size="5.6" text-anchor="end" font-weight="bold" fill="#000" >13.171 OD</text>
<text transform="translate(619.79,136.30) rotate(-90)" font-size="5.6" text-anchor="end" font-weight="bold" fill="#000" >13.85 OS</text>
<text transform="translate(631.04,136.30) rotate(-90)" font-size="5.6" text-anchor="end" font-weight="bold" fill="#000" >150069 OD</text>
<text transform="translate(642.30,136.30) rotate(-90)" font-size="5.6" text-anchor="end" font-weight="bold" fill="#000" >150110 OD</text>
<text transform="translate(653.55,136.30) rotate(-90)" font-size="5.6" text-anchor="end" font-weight="bold" fill="#000" >150157 OS</text>
<text transform="translate(664.80,136.30) rotate(-90)" font-size="5.6" text-anchor="end" font-weight="bold" fill="#000" >150171 OS</text>
<line x1="369.05" y1="118.00" x2="369.05" y2="119.70" stroke="#f8182c" stroke-width="0.8"/>
<rect x="365.50" y="120.30" width="7.10" height="1.70" fill="none" stroke="#f8182c" stroke-width="1.2"/>
<line x1="380.15" y1="115.80" x2="380.15" y2="118.40" stroke="#f8182c" stroke-width="0.8"/>
<rect x="376.50" y="119.00" width="7.30" height="2.40" fill="none" stroke="#f8182c" stroke-width="1.2"/>
<line x1="391.30" y1="115.80" x2="391.30" y2="119.20" stroke="#f8182c" stroke-width="0.8"/>
<rect x="387.50" y="119.80" width="7.60" height="1.60" fill="none" stroke="#f8182c" stroke-width="1.2"/>
<circle cx="391.30" cy="115.80" r="1.25" fill="#f8182c"/>
<line x1="402.85" y1="114.70" x2="402.85" y2="116.20" stroke="#f8182c" stroke-width="0.8"/>
<rect x="399.40" y="116.80" width="6.90" height="2.90" fill="none" stroke="#f8182c" stroke-width="1.2"/>
<line x1="398.80" y1="118.20" x2="406.90" y2="118.20" stroke="#f8182c" stroke-width="1.0"/>
<circle cx="402.85" cy="111.20" r="1.25" fill="#f8182c"/>
<rect x="421.70" y="117.90" width="7.60" height="1.80" fill="none" stroke="#f8182c" stroke-width="1.2"/>
<circle cx="425.50" cy="107.60" r="1.25" fill="#f8182c"/>
<circle cx="425.50" cy="113.40" r="1.25" fill="#f8182c"/>
<rect x="432.80" y="117.40" width="7.60" height="2.30" fill="none" stroke="#f8182c" stroke-width="1.2"/>
<line x1="432.20" y1="118.60" x2="441.00" y2="118.60" stroke="#f8182c" stroke-width="1.0"/>
<circle cx="436.60" cy="105.60" r="1.25" fill="#f8182c"/>
<circle cx="436.60" cy="112.40" r="1.25" fill="#f8182c"/>
<line x1="447.65" y1="107.20" x2="447.65" y2="109.80" stroke="#5a32f4" stroke-width="0.8"/>
<line x1="447.65" y1="114.80" x2="447.65" y2="116.80" stroke="#5a32f4" stroke-width="0.8"/>
<rect x="444.00" y="110.40" width="7.30" height="3.80" fill="none" stroke="#5a32f4" stroke-width="1.2"/>
<line x1="443.40" y1="112.30" x2="451.90" y2="112.30" stroke="#5a32f4" stroke-width="1.0"/>
<line x1="459.05" y1="113.00" x2="459.05" y2="114.10" stroke="#5a32f4" stroke-width="0.8"/>
<line x1="459.05" y1="117.30" x2="459.05" y2="118.80" stroke="#5a32f4" stroke-width="0.8"/>
<rect x="455.20" y="114.70" width="7.70" height="2.00" fill="none" stroke="#5a32f4" stroke-width="1.2"/>
<line x1="470.40" y1="118.10" x2="470.40" y2="119.80" stroke="#5a32f4" stroke-width="0.8"/>
<rect x="466.60" y="115.90" width="7.60" height="1.60" fill="none" stroke="#5a32f4" stroke-width="1.2"/>
<line x1="481.60" y1="111.80" x2="481.60" y2="112.80" stroke="#5a32f4" stroke-width="0.8"/>
<line x1="481.60" y1="115.80" x2="481.60" y2="118.30" stroke="#5a32f4" stroke-width="0.8"/>
<rect x="477.80" y="113.40" width="7.60" height="1.80" fill="none" stroke="#5a32f4" stroke-width="1.2"/>
<line x1="477.20" y1="114.30" x2="486.00" y2="114.30" stroke="#5a32f4" stroke-width="1.0"/>
<circle cx="481.60" cy="107.20" r="1.25" fill="#5a32f4"/>
<line x1="492.70" y1="92.00" x2="492.70" y2="95.10" stroke="#10ea50" stroke-width="0.8"/>
<line x1="492.70" y1="99.60" x2="492.70" y2="105.20" stroke="#10ea50" stroke-width="0.8"/>
<rect x="488.90" y="95.70" width="7.60" height="3.30" fill="none" stroke="#10ea50" stroke-width="1.2"/>
<line x1="488.30" y1="98.10" x2="497.10" y2="98.10" stroke="#10ea50" stroke-width="1.0"/>
<line x1="504.10" y1="109.90" x2="504.10" y2="112.20" stroke="#10ea50" stroke-width="0.8"/>
<rect x="500.50" y="112.80" width="7.20" height="2.60" fill="none" stroke="#10ea50" stroke-width="1.2"/>
<line x1="499.90" y1="114.10" x2="508.30" y2="114.10" stroke="#10ea50" stroke-width="1.0"/>
<circle cx="504.10" cy="105.60" r="1.25" fill="#10ea50"/>
<line x1="515.35" y1="103.50" x2="515.35" y2="109.00" stroke="#10ea50" stroke-width="0.8"/>
<line x1="515.35" y1="115.30" x2="515.35" y2="117.10" stroke="#10ea50" stroke-width="0.8"/>
<rect x="511.80" y="109.60" width="7.10" height="5.10" fill="none" stroke="#10ea50" stroke-width="1.2"/>
<line x1="511.20" y1="112.20" x2="519.50" y2="112.20" stroke="#10ea50" stroke-width="1.0"/>
<circle cx="515.35" cy="99.10" r="1.25" fill="#10ea50"/>
<line x1="526.50" y1="108.10" x2="526.50" y2="109.30" stroke="#10ea50" stroke-width="0.8"/>
<line x1="526.50" y1="117.10" x2="526.50" y2="119.10" stroke="#10ea50" stroke-width="0.8"/>
<rect x="523.00" y="109.90" width="7.00" height="6.60" fill="none" stroke="#10ea50" stroke-width="1.2"/>
<line x1="522.40" y1="113.30" x2="530.60" y2="113.30" stroke="#10ea50" stroke-width="1.0"/>
<line x1="537.95" y1="117.60" x2="537.95" y2="119.50" stroke="#10ea50" stroke-width="0.8"/>
<rect x="534.30" y="115.90" width="7.30" height="1.10" fill="none" stroke="#10ea50" stroke-width="1.2"/>
<circle cx="537.95" cy="110.20" r="1.25" fill="#10ea50"/>
<line x1="548.95" y1="100.00" x2="548.95" y2="106.40" stroke="#10ea50" stroke-width="0.8"/>
<line x1="548.95" y1="113.30" x2="548.95" y2="114.50" stroke="#10ea50" stroke-width="0.8"/>
<rect x="545.50" y="107.00" width="6.90" height="5.70" fill="none" stroke="#10ea50" stroke-width="1.2"/>
<line x1="544.90" y1="109.90" x2="553.00" y2="109.90" stroke="#10ea50" stroke-width="1.0"/>
<circle cx="548.95" cy="92.90" r="1.25" fill="#10ea50"/>
<line x1="560.30" y1="101.90" x2="560.30" y2="104.00" stroke="#10ea50" stroke-width="0.8"/>
<line x1="560.30" y1="112.80" x2="560.30" y2="114.50" stroke="#10ea50" stroke-width="0.8"/>
<rect x="556.80" y="104.60" width="7.00" height="7.60" fill="none" stroke="#10ea50" stroke-width="1.2"/>
<line x1="556.20" y1="111.70" x2="564.40" y2="111.70" stroke="#10ea50" stroke-width="1.0"/>
<circle cx="560.30" cy="89.60" r="1.25" fill="#10ea50"/>
<circle cx="560.30" cy="70.90" r="1.25" fill="#10ea50"/>
<rect x="567.70" y="113.70" width="7.40" height="2.00" fill="none" stroke="#10ea50" stroke-width="1.2"/>
<line x1="567.10" y1="114.70" x2="575.70" y2="114.70" stroke="#10ea50" stroke-width="1.0"/>
<circle cx="571.40" cy="97.10" r="1.25" fill="#10ea50"/>
<circle cx="571.40" cy="104.00" r="1.25" fill="#10ea50"/>
<line x1="580.45" y1="112.60" x2="580.45" y2="113.70" stroke="#5a32f4" stroke-width="0.8"/>
<rect x="578.90" y="114.30" width="3.10" height="3.10" fill="none" stroke="#5a32f4" stroke-width="1.2"/>
<line x1="585.15" y1="108.30" x2="585.15" y2="109.40" stroke="#10ea50" stroke-width="0.8"/>
<line x1="585.15" y1="116.30" x2="585.15" y2="119.20" stroke="#10ea50" stroke-width="0.8"/>
<rect x="583.50" y="110.00" width="3.30" height="5.70" fill="none" stroke="#10ea50" stroke-width="1.2"/>
<line x1="582.90" y1="112.80" x2="587.40" y2="112.80" stroke="#10ea50" stroke-width="1.0"/>
<rect x="590.70" y="114.80" width="2.60" height="0.90" fill="none" stroke="#5a32f4" stroke-width="1.2"/>
<circle cx="592.00" cy="110.50" r="1.25" fill="#5a32f4"/>
<line x1="596.55" y1="105.60" x2="596.55" y2="109.40" stroke="#10ea50" stroke-width="0.8"/>
<line x1="596.55" y1="115.80" x2="596.55" y2="119.00" stroke="#10ea50" stroke-width="0.8"/>
<rect x="595.00" y="110.00" width="3.10" height="5.20" fill="none" stroke="#10ea50" stroke-width="1.2"/>
<line x1="594.40" y1="112.60" x2="598.70" y2="112.60" stroke="#10ea50" stroke-width="1.0"/>
<line x1="603.35" y1="96.90" x2="603.35" y2="102.40" stroke="#5a32f4" stroke-width="0.8"/>
<line x1="603.35" y1="110.50" x2="603.35" y2="113.70" stroke="#5a32f4" stroke-width="0.8"/>
<rect x="601.70" y="103.00" width="3.30" height="6.90" fill="none" stroke="#5a32f4" stroke-width="1.2"/>
<line x1="601.10" y1="107.80" x2="605.60" y2="107.80" stroke="#5a32f4" stroke-width="1.0"/>
<line x1="607.90" y1="106.70" x2="607.90" y2="108.30" stroke="#10ea50" stroke-width="0.8"/>
<line x1="607.90" y1="114.70" x2="607.90" y2="115.60" stroke="#10ea50" stroke-width="0.8"/>
<rect x="606.40" y="108.90" width="3.00" height="5.20" fill="none" stroke="#10ea50" stroke-width="1.2"/>
<line x1="605.80" y1="110.80" x2="610.00" y2="110.80" stroke="#10ea50" stroke-width="1.0"/>
<line x1="614.55" y1="110.80" x2="614.55" y2="113.00" stroke="#5a32f4" stroke-width="0.8"/>
<line x1="614.55" y1="117.40" x2="614.55" y2="118.70" stroke="#5a32f4" stroke-width="0.8"/>
<rect x="613.00" y="113.60" width="3.10" height="3.20" fill="none" stroke="#5a32f4" stroke-width="1.2"/>
<line x1="612.40" y1="115.50" x2="616.70" y2="115.50" stroke="#5a32f4" stroke-width="1.0"/>
<circle cx="614.55" cy="105.40" r="1.25" fill="#5a32f4"/>
<rect x="617.70" y="114.90" width="3.00" height="1.90" fill="none" stroke="#10ea50" stroke-width="1.2"/>
<circle cx="619.20" cy="105.40" r="1.25" fill="#10ea50"/>
<circle cx="619.20" cy="110.80" r="1.25" fill="#10ea50"/>
<line x1="625.65" y1="116.20" x2="625.65" y2="118.50" stroke="#5a32f4" stroke-width="0.8"/>
<rect x="624.00" y="112.70" width="3.30" height="2.90" fill="none" stroke="#5a32f4" stroke-width="1.2"/>
<line x1="623.40" y1="114.20" x2="627.90" y2="114.20" stroke="#5a32f4" stroke-width="1.0"/>
<circle cx="625.65" cy="95.80" r="1.25" fill="#5a32f4"/>
<circle cx="625.65" cy="76.30" r="1.25" fill="#5a32f4"/>
<line x1="630.60" y1="106.20" x2="630.60" y2="108.50" stroke="#10ea50" stroke-width="0.8"/>
<line x1="630.60" y1="115.50" x2="630.60" y2="117.40" stroke="#10ea50" stroke-width="0.8"/>
<rect x="629.10" y="109.10" width="3.00" height="5.80" fill="none" stroke="#10ea50" stroke-width="1.2"/>
<line x1="628.50" y1="111.70" x2="632.70" y2="111.70" stroke="#10ea50" stroke-width="1.0"/>
<circle cx="630.60" cy="95.60" r="1.25" fill="#10ea50"/>
<circle cx="630.60" cy="33.10" r="1.25" fill="#10ea50"/>
<line x1="637.00" y1="108.30" x2="637.00" y2="113.00" stroke="#5a32f4" stroke-width="0.8"/>
<rect x="635.50" y="113.60" width="3.00" height="3.20" fill="none" stroke="#5a32f4" stroke-width="1.2"/>
<line x1="634.90" y1="115.90" x2="639.10" y2="115.90" stroke="#5a32f4" stroke-width="1.0"/>
<line x1="641.55" y1="109.20" x2="641.55" y2="111.70" stroke="#10ea50" stroke-width="0.8"/>
<line x1="641.55" y1="116.20" x2="641.55" y2="117.40" stroke="#10ea50" stroke-width="0.8"/>
<rect x="639.90" y="112.30" width="3.30" height="3.30" fill="none" stroke="#10ea50" stroke-width="1.2"/>
<line x1="639.30" y1="113.60" x2="643.80" y2="113.60" stroke="#10ea50" stroke-width="1.0"/>
<circle cx="641.55" cy="101.90" r="1.25" fill="#10ea50"/>
<circle cx="641.55" cy="69.60" r="1.25" fill="#10ea50"/>
<line x1="648.25" y1="98.40" x2="648.25" y2="109.20" stroke="#5a32f4" stroke-width="0.8"/>
<line x1="648.25" y1="118.10" x2="648.25" y2="120.00" stroke="#5a32f4" stroke-width="0.8"/>
<rect x="646.60" y="109.80" width="3.30" height="7.70" fill="none" stroke="#5a32f4" stroke-width="1.2"/>
<line x1="646.00" y1="114.90" x2="650.50" y2="114.90" stroke="#5a32f4" stroke-width="1.0"/>
<line x1="652.70" y1="81.60" x2="652.70" y2="86.30" stroke="#10ea50" stroke-width="0.8"/>
<line x1="652.70" y1="95.20" x2="652.70" y2="101.50" stroke="#10ea50" stroke-width="0.8"/>
<rect x="651.10" y="86.90" width="3.20" height="7.70" fill="none" stroke="#10ea50" stroke-width="1.2"/>
<line x1="650.50" y1="91.40" x2="654.90" y2="91.40" stroke="#10ea50" stroke-width="1.0"/>
<circle cx="652.70" cy="71.70" r="1.25" fill="#10ea50"/>
<line x1="659.25" y1="118.10" x2="659.25" y2="120.00" stroke="#5a32f4" stroke-width="0.8"/>
<rect x="657.50" y="116.10" width="3.50" height="1.40" fill="none" stroke="#5a32f4" stroke-width="1.2"/>
<rect x="662.60" y="112.90" width="3.50" height="2.00" fill="none" stroke="#10ea50" stroke-width="1.2"/>
<text x="518.05" y="180.60" font-size="7.8" text-anchor="middle" font-weight="bold" fill="#000" >Waking Period</text>
<text x="353.90" y="182.60" font-size="8.0" text-anchor="start" font-weight="bold" fill="#000" >D.</text>
<line x1="361.50" y1="187.90" x2="361.50" y2="293.80" stroke="#555" stroke-width="1.1"/>
<line x1="361.00" y1="293.60" x2="667.00" y2="293.60" stroke="#8a8a8a" stroke-width="1.2"/>
<text x="359.70" y="194.70" font-size="6.1" text-anchor="end" font-weight="bold" fill="#000" >1,000</text>
<line x1="359.70" y1="192.50" x2="361.50" y2="192.50" stroke="#555" stroke-width="0.8"/>
<text x="359.70" y="218.80" font-size="6.1" text-anchor="end" font-weight="bold" fill="#000" >750</text>
<line x1="359.70" y1="216.60" x2="361.50" y2="216.60" stroke="#555" stroke-width="0.8"/>
<text x="359.70" y="242.50" font-size="6.1" text-anchor="end" font-weight="bold" fill="#000" >500</text>
<line x1="359.70" y1="240.30" x2="361.50" y2="240.30" stroke="#555" stroke-width="0.8"/>
<text x="359.70" y="267.20" font-size="6.1" text-anchor="end" font-weight="bold" fill="#000" >250</text>
<line x1="359.70" y1="265.00" x2="361.50" y2="265.00" stroke="#555" stroke-width="0.8"/>
<text x="359.70" y="290.70" font-size="6.1" text-anchor="end" font-weight="bold" fill="#000" >0</text>
<line x1="359.70" y1="288.50" x2="361.50" y2="288.50" stroke="#555" stroke-width="0.8"/>
<line x1="368.40" y1="293.20" x2="368.40" y2="294.50" stroke="#555" stroke-width="0.7"/>
<line x1="379.63" y1="293.20" x2="379.63" y2="294.50" stroke="#555" stroke-width="0.7"/>
<line x1="390.86" y1="293.20" x2="390.86" y2="294.50" stroke="#555" stroke-width="0.7"/>
<line x1="402.09" y1="293.20" x2="402.09" y2="294.50" stroke="#555" stroke-width="0.7"/>
<line x1="413.32" y1="293.20" x2="413.32" y2="294.50" stroke="#555" stroke-width="0.7"/>
<line x1="424.55" y1="293.20" x2="424.55" y2="294.50" stroke="#555" stroke-width="0.7"/>
<line x1="435.78" y1="293.20" x2="435.78" y2="294.50" stroke="#555" stroke-width="0.7"/>
<line x1="447.01" y1="293.20" x2="447.01" y2="294.50" stroke="#555" stroke-width="0.7"/>
<line x1="458.24" y1="293.20" x2="458.24" y2="294.50" stroke="#555" stroke-width="0.7"/>
<line x1="469.47" y1="293.20" x2="469.47" y2="294.50" stroke="#555" stroke-width="0.7"/>
<line x1="480.70" y1="293.20" x2="480.70" y2="294.50" stroke="#555" stroke-width="0.7"/>
<line x1="491.93" y1="293.20" x2="491.93" y2="294.50" stroke="#555" stroke-width="0.7"/>
<line x1="503.16" y1="293.20" x2="503.16" y2="294.50" stroke="#555" stroke-width="0.7"/>
<line x1="514.39" y1="293.20" x2="514.39" y2="294.50" stroke="#555" stroke-width="0.7"/>
<line x1="525.62" y1="293.20" x2="525.62" y2="294.50" stroke="#555" stroke-width="0.7"/>
<line x1="536.85" y1="293.20" x2="536.85" y2="294.50" stroke="#555" stroke-width="0.7"/>
<line x1="548.08" y1="293.20" x2="548.08" y2="294.50" stroke="#555" stroke-width="0.7"/>
<line x1="559.31" y1="293.20" x2="559.31" y2="294.50" stroke="#555" stroke-width="0.7"/>
<line x1="570.54" y1="293.20" x2="570.54" y2="294.50" stroke="#555" stroke-width="0.7"/>
<line x1="581.77" y1="293.20" x2="581.77" y2="294.50" stroke="#555" stroke-width="0.7"/>
<line x1="593.00" y1="293.20" x2="593.00" y2="294.50" stroke="#555" stroke-width="0.7"/>
<line x1="604.23" y1="293.20" x2="604.23" y2="294.50" stroke="#555" stroke-width="0.7"/>
<line x1="615.46" y1="293.20" x2="615.46" y2="294.50" stroke="#555" stroke-width="0.7"/>
<line x1="626.69" y1="293.20" x2="626.69" y2="294.50" stroke="#555" stroke-width="0.7"/>
<line x1="637.92" y1="293.20" x2="637.92" y2="294.50" stroke="#555" stroke-width="0.7"/>
<line x1="649.15" y1="293.20" x2="649.15" y2="294.50" stroke="#555" stroke-width="0.7"/>
<line x1="660.38" y1="293.20" x2="660.38" y2="294.50" stroke="#555" stroke-width="0.7"/>
<text transform="translate(370.70,299.80) rotate(-90)" font-size="5.6" text-anchor="end" font-weight="bold" fill="#000" >0804025 OD</text>
<text transform="translate(381.93,299.80) rotate(-90)" font-size="5.6" text-anchor="end" font-weight="bold" fill="#000" >0804025 OS</text>
<text transform="translate(393.16,299.80) rotate(-90)" font-size="5.6" text-anchor="end" font-weight="bold" fill="#000" >9028 OS</text>
<text transform="translate(404.39,299.80) rotate(-90)" font-size="5.6" text-anchor="end" font-weight="bold" fill="#000" >9140 OD</text>
<text transform="translate(415.62,299.80) rotate(-90)" font-size="5.6" text-anchor="end" font-weight="bold" fill="#000" >9140 OS</text>
<text transform="translate(426.85,299.80) rotate(-90)" font-size="5.6" text-anchor="end" font-weight="bold" fill="#000" >9160 OD</text>
<text transform="translate(438.08,299.80) rotate(-90)" font-size="5.6" text-anchor="end" font-weight="bold" fill="#000" >9160 OS</text>
<text transform="translate(449.31,299.80) rotate(-90)" font-size="5.6" text-anchor="end" font-weight="bold" fill="#000" >13.171 OS</text>
<text transform="translate(460.54,299.80) rotate(-90)" font-size="5.6" text-anchor="end" font-weight="bold" fill="#000" >13.264 OD</text>
<text transform="translate(471.77,299.80) rotate(-90)" font-size="5.6" text-anchor="end" font-weight="bold" fill="#000" >13.264 OS</text>
<text transform="translate(483.00,299.80) rotate(-90)" font-size="5.6" text-anchor="end" font-weight="bold" fill="#000" >150171 OD</text>
<text transform="translate(494.23,299.80) rotate(-90)" font-size="5.6" text-anchor="end" font-weight="bold" fill="#000" >12.38 OD</text>
<text transform="translate(505.46,299.80) rotate(-90)" font-size="5.6" text-anchor="end" font-weight="bold" fill="#000" >13.163 OD</text>
<text transform="translate(516.69,299.80) rotate(-90)" font-size="5.6" text-anchor="end" font-weight="bold" fill="#000" >13.163 OS</text>
<text transform="translate(527.92,299.80) rotate(-90)" font-size="5.6" text-anchor="end" font-weight="bold" fill="#000" >13.260 OD</text>
<text transform="translate(539.15,299.80) rotate(-90)" font-size="5.6" text-anchor="end" font-weight="bold" fill="#000" >13.86 OD</text>
<text transform="translate(550.38,299.80) rotate(-90)" font-size="5.6" text-anchor="end" font-weight="bold" fill="#000" >150143 OD</text>
<text transform="translate(561.61,299.80) rotate(-90)" font-size="5.6" text-anchor="end" font-weight="bold" fill="#000" >150152 OD</text>
<text transform="translate(572.84,299.80) rotate(-90)" font-size="5.6" text-anchor="end" font-weight="bold" fill="#000" >150152 OS</text>
<text transform="translate(584.07,299.80) rotate(-90)" font-size="5.6" text-anchor="end" font-weight="bold" fill="#000" >13.106 OD</text>
<text transform="translate(595.30,299.80) rotate(-90)" font-size="5.6" text-anchor="end" font-weight="bold" fill="#000" >13.106 OS</text>
<text transform="translate(606.53,299.80) rotate(-90)" font-size="5.6" text-anchor="end" font-weight="bold" fill="#000" >13.171 OD</text>
<text transform="translate(617.76,299.80) rotate(-90)" font-size="5.6" text-anchor="end" font-weight="bold" fill="#000" >13.85 OS</text>
<text transform="translate(628.99,299.80) rotate(-90)" font-size="5.6" text-anchor="end" font-weight="bold" fill="#000" >150069 OD</text>
<text transform="translate(640.22,299.80) rotate(-90)" font-size="5.6" text-anchor="end" font-weight="bold" fill="#000" >150110 OD</text>
<text transform="translate(651.45,299.80) rotate(-90)" font-size="5.6" text-anchor="end" font-weight="bold" fill="#000" >150157 OS</text>
<text transform="translate(662.68,299.80) rotate(-90)" font-size="5.6" text-anchor="end" font-weight="bold" fill="#000" >150171 OS</text>
<text x="527.00" y="337.40" font-size="6.65" text-anchor="middle" font-weight="bold" fill="#000" >NHP and Eye</text>
<line x1="368.45" y1="280.20" x2="368.45" y2="282.30" stroke="#f8182c" stroke-width="1.0"/>
<rect x="364.90" y="282.80" width="7.10" height="5.30" fill="none" stroke="#f8182c" stroke-width="1.0"/>
<line x1="364.40" y1="286.10" x2="372.50" y2="286.10" stroke="#f8182c" stroke-width="1.5"/>
<line x1="379.50" y1="277.60" x2="379.50" y2="280.90" stroke="#f8182c" stroke-width="1.0"/>
<rect x="375.80" y="281.40" width="7.40" height="6.70" fill="none" stroke="#f8182c" stroke-width="1.0"/>
<line x1="375.30" y1="285.50" x2="383.70" y2="285.50" stroke="#f8182c" stroke-width="1.5"/>
<line x1="390.65" y1="284.30" x2="390.65" y2="286.30" stroke="#f8182c" stroke-width="1.0"/>
<rect x="387.10" y="286.80" width="7.10" height="1.30" fill="none" stroke="#f8182c" stroke-width="1.0"/>
<rect x="398.00" y="281.80" width="8.30" height="5.20" fill="none" stroke="#f8182c" stroke-width="1.0"/>
<line x1="397.50" y1="285.40" x2="406.80" y2="285.40" stroke="#f8182c" stroke-width="1.5"/>
<line x1="424.50" y1="282.80" x2="424.50" y2="284.80" stroke="#f8182c" stroke-width="1.0"/>
<rect x="420.70" y="285.30" width="7.60" height="1.70" fill="none" stroke="#f8182c" stroke-width="1.0"/>
<line x1="435.60" y1="281.20" x2="435.60" y2="283.20" stroke="#f8182c" stroke-width="1.0"/>
<rect x="431.80" y="283.70" width="7.60" height="3.30" fill="none" stroke="#f8182c" stroke-width="1.0"/>
<line x1="431.30" y1="284.80" x2="439.90" y2="284.80" stroke="#f8182c" stroke-width="1.5"/>
<line x1="446.75" y1="279.20" x2="446.75" y2="281.20" stroke="#5a32f4" stroke-width="1.0"/>
<line x1="446.75" y1="285.60" x2="446.75" y2="286.90" stroke="#5a32f4" stroke-width="1.0"/>
<rect x="443.10" y="281.70" width="7.30" height="3.40" fill="none" stroke="#5a32f4" stroke-width="1.0"/>
<line x1="442.60" y1="283.90" x2="450.90" y2="283.90" stroke="#5a32f4" stroke-width="1.5"/>
<line x1="458.20" y1="286.50" x2="458.20" y2="287.80" stroke="#5a32f4" stroke-width="1.0"/>
<rect x="454.40" y="284.80" width="7.60" height="1.20" fill="none" stroke="#5a32f4" stroke-width="1.0"/>
<line x1="469.45" y1="277.20" x2="469.45" y2="279.50" stroke="#5a32f4" stroke-width="1.0"/>
<line x1="469.45" y1="286.50" x2="469.45" y2="287.80" stroke="#5a32f4" stroke-width="1.0"/>
<rect x="465.60" y="280.00" width="7.70" height="6.00" fill="none" stroke="#5a32f4" stroke-width="1.0"/>
<line x1="465.10" y1="284.80" x2="473.80" y2="284.80" stroke="#5a32f4" stroke-width="1.5"/>
<line x1="480.50" y1="235.30" x2="480.50" y2="242.40" stroke="#5a32f4" stroke-width="1.0"/>
<rect x="476.90" y="242.90" width="7.20" height="42.90" fill="none" stroke="#5a32f4" stroke-width="1.0"/>
<line x1="476.40" y1="272.40" x2="484.60" y2="272.40" stroke="#5a32f4" stroke-width="1.5"/>
<line x1="491.95" y1="250.40" x2="491.95" y2="266.90" stroke="#10ea50" stroke-width="1.0"/>
<line x1="491.95" y1="280.70" x2="491.95" y2="283.00" stroke="#10ea50" stroke-width="1.0"/>
<rect x="488.50" y="267.40" width="6.90" height="12.80" fill="none" stroke="#10ea50" stroke-width="1.0"/>
<line x1="488.00" y1="277.50" x2="495.90" y2="277.50" stroke="#10ea50" stroke-width="1.5"/>
<line x1="503.15" y1="275.50" x2="503.15" y2="281.00" stroke="#10ea50" stroke-width="1.0"/>
<rect x="499.40" y="281.50" width="7.50" height="3.80" fill="none" stroke="#10ea50" stroke-width="1.0"/>
<line x1="498.90" y1="283.60" x2="507.40" y2="283.60" stroke="#10ea50" stroke-width="1.5"/>
<line x1="514.45" y1="250.10" x2="514.45" y2="262.50" stroke="#10ea50" stroke-width="1.0"/>
<rect x="510.90" y="263.00" width="7.10" height="22.30" fill="none" stroke="#10ea50" stroke-width="1.0"/>
<line x1="510.40" y1="280.60" x2="518.50" y2="280.60" stroke="#10ea50" stroke-width="1.5"/>
<line x1="525.45" y1="258.90" x2="525.45" y2="272.50" stroke="#10ea50" stroke-width="1.0"/>
<rect x="521.80" y="273.00" width="7.30" height="12.30" fill="none" stroke="#10ea50" stroke-width="1.0"/>
<line x1="521.30" y1="283.30" x2="529.60" y2="283.30" stroke="#10ea50" stroke-width="1.5"/>
<rect x="533.40" y="285.90" width="6.90" height="1.40" fill="none" stroke="#10ea50" stroke-width="1.0"/>
<line x1="548.30" y1="222.50" x2="548.30" y2="250.50" stroke="#10ea50" stroke-width="1.0"/>
<rect x="544.80" y="251.00" width="7.00" height="33.30" fill="none" stroke="#10ea50" stroke-width="1.0"/>
<line x1="544.30" y1="275.00" x2="552.30" y2="275.00" stroke="#10ea50" stroke-width="1.5"/>
<line x1="559.45" y1="205.10" x2="559.45" y2="225.30" stroke="#10ea50" stroke-width="1.0"/>
<rect x="555.70" y="225.80" width="7.50" height="59.10" fill="none" stroke="#10ea50" stroke-width="1.0"/>
<line x1="555.20" y1="254.30" x2="563.70" y2="254.30" stroke="#10ea50" stroke-width="1.5"/>
<line x1="570.55" y1="251.10" x2="570.55" y2="259.60" stroke="#10ea50" stroke-width="1.0"/>
<rect x="567.10" y="260.10" width="6.90" height="26.10" fill="none" stroke="#10ea50" stroke-width="1.0"/>
<line x1="566.60" y1="273.40" x2="574.50" y2="273.40" stroke="#10ea50" stroke-width="1.5"/>
<rect x="577.90" y="282.60" width="3.00" height="3.40" fill="none" stroke="#5a32f4" stroke-width="1.0"/>
<line x1="577.40" y1="284.00" x2="581.40" y2="284.00" stroke="#5a32f4" stroke-width="1.5"/>
<rect x="582.50" y="283.50" width="3.20" height="2.00" fill="none" stroke="#10ea50" stroke-width="1.0"/>
<line x1="590.55" y1="278.80" x2="590.55" y2="281.60" stroke="#5a32f4" stroke-width="1.0"/>
<rect x="589.00" y="282.10" width="3.10" height="3.90" fill="none" stroke="#5a32f4" stroke-width="1.0"/>
<line x1="588.50" y1="284.00" x2="592.60" y2="284.00" stroke="#5a32f4" stroke-width="1.5"/>
<line x1="595.30" y1="268.00" x2="595.30" y2="276.20" stroke="#10ea50" stroke-width="1.0"/>
<line x1="595.30" y1="285.50" x2="595.30" y2="287.50" stroke="#10ea50" stroke-width="1.0"/>
<rect x="593.70" y="276.70" width="3.20" height="8.30" fill="none" stroke="#10ea50" stroke-width="1.0"/>
<line x1="593.20" y1="281.50" x2="597.40" y2="281.50" stroke="#10ea50" stroke-width="1.5"/>
<line x1="602.20" y1="270.10" x2="602.20" y2="275.50" stroke="#5a32f4" stroke-width="1.0"/>
<rect x="600.60" y="276.00" width="3.20" height="8.80" fill="none" stroke="#5a32f4" stroke-width="1.0"/>
<line x1="600.10" y1="282.20" x2="604.30" y2="282.20" stroke="#5a32f4" stroke-width="1.5"/>
<rect x="605.20" y="280.80" width="3.10" height="4.90" fill="none" stroke="#10ea50" stroke-width="1.0"/>
<line x1="604.70" y1="283.20" x2="608.80" y2="283.20" stroke="#10ea50" stroke-width="1.5"/>
<line x1="613.35" y1="271.00" x2="613.35" y2="277.30" stroke="#5a32f4" stroke-width="1.0"/>
<rect x="611.90" y="277.80" width="2.90" height="8.50" fill="none" stroke="#5a32f4" stroke-width="1.0"/>
<line x1="611.40" y1="282.80" x2="615.30" y2="282.80" stroke="#5a32f4" stroke-width="1.5"/>
<line x1="617.85" y1="270.00" x2="617.85" y2="275.70" stroke="#10ea50" stroke-width="1.0"/>
<rect x="616.40" y="276.20" width="2.90" height="9.60" fill="none" stroke="#10ea50" stroke-width="1.0"/>
<line x1="615.90" y1="281.40" x2="619.80" y2="281.40" stroke="#10ea50" stroke-width="1.5"/>
<line x1="624.45" y1="192.90" x2="624.45" y2="239.30" stroke="#5a32f4" stroke-width="1.0"/>
<rect x="622.90" y="239.80" width="3.10" height="46.30" fill="none" stroke="#5a32f4" stroke-width="1.0"/>
<line x1="622.40" y1="269.50" x2="626.50" y2="269.50" stroke="#5a32f4" stroke-width="1.5"/>
<line x1="629.50" y1="218.70" x2="629.50" y2="242.80" stroke="#10ea50" stroke-width="1.0"/>
<rect x="628.10" y="243.30" width="2.80" height="42.00" fill="none" stroke="#10ea50" stroke-width="1.0"/>
<line x1="627.60" y1="257.40" x2="631.40" y2="257.40" stroke="#10ea50" stroke-width="1.5"/>
<line x1="636.00" y1="271.40" x2="636.00" y2="273.50" stroke="#5a32f4" stroke-width="1.0"/>
<rect x="634.50" y="274.00" width="3.00" height="12.10" fill="none" stroke="#5a32f4" stroke-width="1.0"/>
<line x1="634.00" y1="281.60" x2="638.00" y2="281.60" stroke="#5a32f4" stroke-width="1.5"/>
<line x1="640.70" y1="245.00" x2="640.70" y2="250.60" stroke="#10ea50" stroke-width="1.0"/>
<rect x="639.20" y="251.10" width="3.00" height="35.00" fill="none" stroke="#10ea50" stroke-width="1.0"/>
<line x1="638.70" y1="266.40" x2="642.70" y2="266.40" stroke="#10ea50" stroke-width="1.5"/>
<line x1="647.00" y1="279.80" x2="647.00" y2="281.60" stroke="#5a32f4" stroke-width="1.0"/>
<rect x="645.40" y="282.10" width="3.20" height="4.10" fill="none" stroke="#5a32f4" stroke-width="1.0"/>
<line x1="644.90" y1="284.30" x2="649.10" y2="284.30" stroke="#5a32f4" stroke-width="1.5"/>
<line x1="651.60" y1="248.50" x2="651.60" y2="253.20" stroke="#10ea50" stroke-width="1.0"/>
<line x1="651.60" y1="279.20" x2="651.60" y2="281.40" stroke="#10ea50" stroke-width="1.0"/>
<rect x="650.10" y="253.70" width="3.00" height="25.00" fill="none" stroke="#10ea50" stroke-width="1.0"/>
<line x1="649.60" y1="265.30" x2="653.60" y2="265.30" stroke="#10ea50" stroke-width="1.5"/>
<line x1="658.50" y1="271.70" x2="658.50" y2="275.70" stroke="#5a32f4" stroke-width="1.0"/>
<rect x="657.00" y="276.20" width="3.00" height="9.90" fill="none" stroke="#5a32f4" stroke-width="1.0"/>
<line x1="656.50" y1="281.40" x2="660.50" y2="281.40" stroke="#5a32f4" stroke-width="1.5"/>
<line x1="663.20" y1="272.80" x2="663.20" y2="276.20" stroke="#10ea50" stroke-width="1.0"/>
<rect x="661.70" y="276.70" width="3.00" height="9.40" fill="none" stroke="#10ea50" stroke-width="1.0"/>
<line x1="661.20" y1="281.80" x2="665.20" y2="281.80" stroke="#10ea50" stroke-width="1.5"/>
</svg></body></html>
